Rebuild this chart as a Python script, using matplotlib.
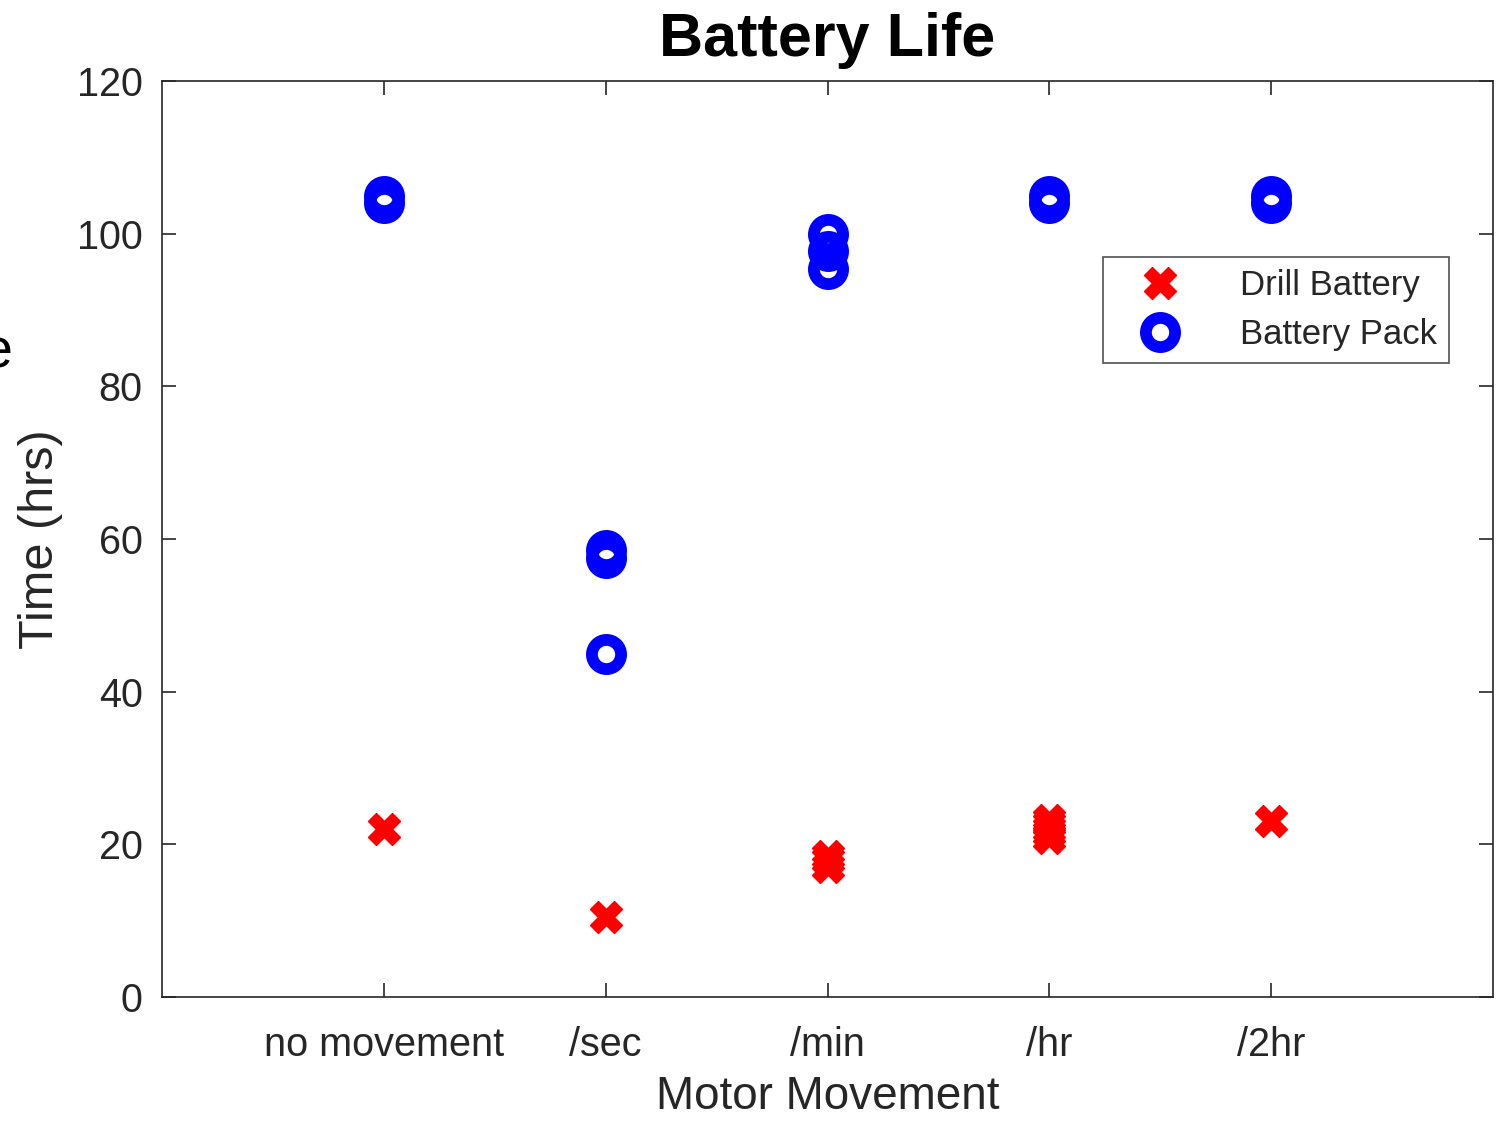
import matplotlib

matplotlib.use("Agg")
import matplotlib.pyplot as plt

plt.rcParams["font.family"] = ["Liberation Sans", "DejaVu Sans"]

CATEGORIES = ["no movement", "/sec", "/min", "/hr", "/2hr"]

# (category index, hours) pairs
DRILL_X = [1, 2, 3, 3, 3, 4, 4, 4, 4, 4, 5]
DRILL_Y = [22, 10.5, 17, 18, 18.5, 20.8, 21.5, 22, 22.7, 23.2, 23]
PACK_X = [1, 1, 2, 2, 2, 3, 3, 3, 4, 4, 5, 5]
PACK_Y = [104, 105, 57.5, 58.5, 45, 100, 97.7, 95.4, 104, 105, 104, 105]

TEXT = "#262626"

fig = plt.figure(figsize=(15.04, 11.21), dpi=100)
ax = fig.add_axes([0.1077, 0.1106, 0.885, 0.8171])

ax.plot(DRILL_X, DRILL_Y, linestyle="none", marker="X", markersize=23,
        markerfacecolor="#ff0000", markeredgecolor="#ff0000", markeredgewidth=1,
        label="Drill Battery")
ax.plot(PACK_X, PACK_Y, linestyle="none", marker="o", markersize=21,
        markerfacecolor="none", markeredgecolor="#0000ff", markeredgewidth=8.5,
        label="Battery Pack")

ax.set_xlim(0, 6)
ax.set_ylim(0, 120)
ax.set_xticks(range(1, 6))
ax.set_xticklabels(CATEGORIES)
ax.set_yticks(range(0, 121, 20))

ax.tick_params(direction="in", length=10, width=1.2, top=True, right=True,
               labelsize=28.5, colors=TEXT)
ax.tick_params(axis="x", pad=21)
ax.tick_params(axis="y", pad=14)
for s in ax.spines.values():
    s.set_color(TEXT)
    s.set_linewidth(1.2)

ax.set_xlabel("Motor Movement", fontsize=33, color=TEXT, labelpad=8)
ax.set_ylabel("Time (hrs)", fontsize=35, color=TEXT, labelpad=10)
ax.set_title("Battery Life", fontsize=44, fontweight="bold", color="black", pad=18)

leg = ax.legend(loc="upper right", bbox_to_anchor=(0.967, 0.808), fontsize=25,
                frameon=True, fancybox=False, borderpad=0.35, handletextpad=1.0,
                labelspacing=0.45, borderaxespad=0, handlelength=2.6)
leg.get_frame().set_edgecolor(TEXT)
leg.get_frame().set_linewidth(1.2)
for t in leg.get_texts():
    t.set_color(TEXT)

# clipped glyph from a neighbouring figure at the left edge
fig.text(-0.012, 0.685, "e", fontsize=40, color="black", ha="left", va="center")

fig.savefig("out.png", dpi=100)
